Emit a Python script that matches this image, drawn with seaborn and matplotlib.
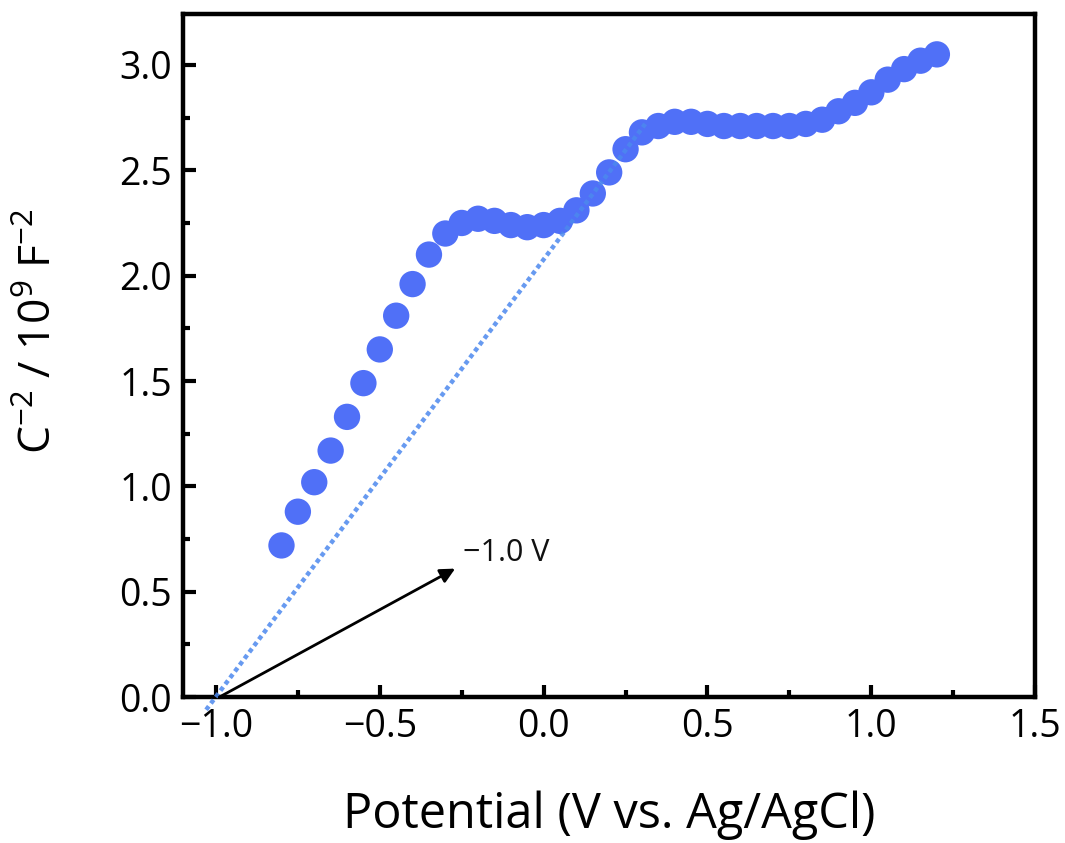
import numpy as np
import pandas as pd
import matplotlib
matplotlib.use("Agg")
import matplotlib.pyplot as plt
import seaborn as sns
from matplotlib.ticker import MultipleLocator

# ---- data ----
potential = [-0.80, -0.75, -0.70, -0.65, -0.60, -0.55, -0.50, -0.45, -0.40, -0.35,
             -0.30, -0.25, -0.20, -0.15, -0.10, -0.05, 0.00, 0.05, 0.10, 0.15,
             0.20, 0.25, 0.30, 0.35, 0.40, 0.45, 0.50, 0.55, 0.60, 0.65,
             0.70, 0.75, 0.80, 0.85, 0.90, 0.95, 1.00, 1.05, 1.10, 1.15, 1.20]
c_inv2 = [0.72, 0.88, 1.02, 1.17, 1.33, 1.49, 1.65, 1.81, 1.96, 2.10,
          2.20, 2.25, 2.27, 2.26, 2.24, 2.23, 2.24, 2.26, 2.31, 2.39,
          2.49, 2.60, 2.68, 2.71, 2.73, 2.73, 2.72, 2.71, 2.71, 2.71,
          2.71, 2.71, 2.72, 2.74, 2.78, 2.82, 2.87, 2.93, 2.98, 3.02, 3.05]
fit_x = [-1.03, 0.31]
fit_y = [-0.06, 2.72]
annot_text = "\u22121.0 V"
x_ticks = [-1.0, -0.5, 0.0, 0.5, 1.0, 1.5]
y_ticks = [0.0, 0.5, 1.0, 1.5, 2.0, 2.5, 3.0]

sns.set_theme(style="ticks")
plt.rcParams['font.family'] = ['Open Sans', 'DejaVu Sans']
plt.rcParams['mathtext.fontset'] = 'custom'
plt.rcParams['mathtext.rm'] = 'Open Sans'
plt.rcParams['mathtext.it'] = 'Open Sans'
for k in ['text.color', 'axes.labelcolor', 'xtick.color', 'ytick.color', 'axes.edgecolor']:
    plt.rcParams[k] = 'black'

fig = plt.figure(figsize=(10.65, 8.43), dpi=100)
ax = fig.add_axes([0.172, 0.173, 0.800, 0.810])

df = pd.DataFrame({"x": potential, "y": c_inv2})
sns.scatterplot(data=df, x="x", y="y", ax=ax, s=360, color="#5070F7",
                edgecolor="none", linewidth=0, zorder=3, legend=False)

fit = pd.DataFrame({"x": fit_x, "y": fit_y})
sns.lineplot(data=fit, x="x", y="y", ax=ax, color="#4C88EE", linestyle=(0, (1, 0.8)),
             linewidth=3.2, alpha=0.85, zorder=4, clip_on=False, legend=False)

ax.annotate("", xy=(-0.27, 0.61), xytext=(-0.99, 0.0),
            arrowprops=dict(arrowstyle="-|>", color="black", lw=2.0,
                            mutation_scale=22, shrinkA=0, shrinkB=0), zorder=5)
ax.text(-0.245, 0.685, annot_text, fontsize=22, color="#111111",
        ha="left", va="center")

ax.set_xlim(-1.1, 1.5)
ax.set_ylim(0, 3.24)
ax.set_xticks(x_ticks)
ax.set_yticks(y_ticks)
ax.set_xticklabels([f"{v:.1f}".replace("-", "\u2212") for v in x_ticks])
ax.set_yticklabels([f"{v:.1f}" for v in y_ticks])
ax.xaxis.set_minor_locator(MultipleLocator(0.25))
ax.yaxis.set_minor_locator(MultipleLocator(0.25))

for sp in ax.spines.values():
    sp.set_linewidth(3.2)
    sp.set_color("black")
    sp.set_visible(True)

ax.tick_params(which="major", direction="in", length=9, width=3, labelsize=27,
               pad=8, colors="black")
ax.tick_params(which="minor", direction="in", length=5, width=3)
ax.tick_params(top=False, right=False, which="both")

ax.set_xlabel("Potential (V vs. Ag/AgCl)", fontsize=35)
ax.set_ylabel(r"C$^{-2}$ / 10$^{9}$ F$^{-2}$", fontsize=32)
ax.xaxis.set_label_coords(0.5, -0.173)
ax.yaxis.set_label_coords(-0.168, 0.536)
ax.xaxis.label.set_va("center")
ax.yaxis.label.set_va("center")

fig.savefig("out.png", dpi=100, facecolor="white")
